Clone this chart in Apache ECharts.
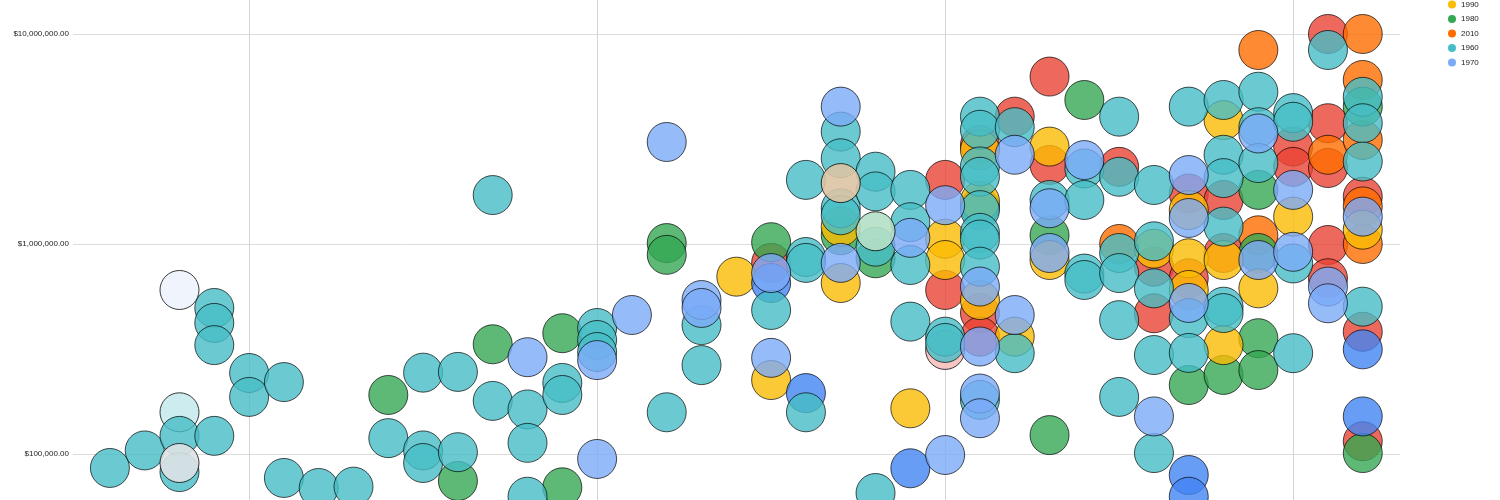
<!DOCTYPE html>
<html>
<head>
<meta charset="utf-8">
<script src="https://cdn.jsdelivr.net/npm/echarts@6/dist/echarts.min.js"></script>
<style>
  html, body { margin: 0; padding: 0; background: #fff; }
  #chart { width: 1500px; height: 500px; }
</style>
</head>
<body>
<div id="chart"></div>
<script>
// legend order as in the chart (first two entries sit above the visible area)
const seriesNames = ['2000', '1950', '1990', '1980', '2010', '1960', '1970']

// x value, amount in dollars
const points2000 = [
  [25, 652000], [26, 195000], [29, 85500], [37, 79400], [37, 62600], [42, 315000], [42, 151000]
]

const points1950 = [
  [25, 813000], [30, 2020000], [30, 604000], [31, 2960000], [31, 469000], [31, 362000],
  [32, 4040000], [33, 6270000], [33, 2380000], [35, 2330000], [36, 780000], [36, 468000],
  [37, 1740000], [37, 687000], [38, 1620000], [38, 906000], [40, 2910000], [40, 2330000],
  [41, 10000000], [41, 3760000], [41, 2300000], [41, 989000], [41, 687000],
  [42, 1680000], [42, 382000], [42, 115000]
]

const points1990 = [
  [24, 699000], [25, 225000], [27, 1210000], [27, 652000], [29, 165000], [30, 1060000],
  [30, 839000], [31, 2800000], [31, 1600000], [31, 541000], [32, 362000], [33, 2910000],
  [33, 839000], [36, 950000], [37, 1450000], [37, 855000], [37, 604000], [38, 3890000],
  [38, 839000], [38, 330000], [39, 615000], [40, 1350000], [42, 1170000]
]

const points1980 = [
  [14, 191000], [16, 74400], [17, 333000], [19, 376000], [19, 69400], [22, 1010000],
  [22, 888000], [25, 1020000], [27, 1100000], [28, 855000], [31, 1500000], [33, 1100000],
  [33, 123000], [34, 4850000], [37, 213000], [38, 238000], [39, 1810000], [39, 906000],
  [39, 356000], [39, 251000], [42, 4510000], [42, 101000]
]

const points2010 = [
  [35, 1000000], [39, 8390000], [39, 1100000], [41, 2660000], [42, 10000000],
  [42, 6040000], [42, 3130000], [42, 1510000], [42, 1000000]
]

const points1960 = [
  [6, 85800], [7, 104000], [8, 122000], [8, 82000], [9, 496000], [9, 421000], [9, 330000],
  [9, 122000], [10, 243000], [10, 187000], [11, 220000], [11, 76900], [12, 68900],
  [13, 69900], [14, 119000], [15, 244000], [15, 104000], [15, 90600], [16, 246000],
  [16, 102000], [17, 179000], [17, 1710000], [18, 163000], [18, 113000], [18, 62600],
  [19, 218000], [19, 191000], [20, 398000], [20, 349000], [20, 306000], [22, 158000],
  [23, 411000], [23, 265000], [25, 485000], [26, 2020000], [26, 867000], [26, 813000],
  [26, 158000], [27, 3430000], [27, 2560000], [27, 1480000], [27, 1370000], [28, 2210000],
  [28, 1780000], [28, 971000], [28, 65200], [29, 1810000], [29, 1270000], [29, 794000],
  [29, 427000], [30, 362000], [30, 338000], [31, 4040000], [31, 3500000], [31, 2340000],
  [31, 2090000], [31, 1450000], [31, 1130000], [31, 1050000], [31, 780000], [31, 181000],
  [32, 3600000], [32, 302000], [33, 1620000], [34, 2290000], [34, 1620000], [34, 723000],
  [34, 674000], [35, 4040000], [35, 2090000], [35, 906000], [35, 727000], [35, 434000],
  [35, 187000], [36, 1910000], [36, 1030000], [36, 615000], [36, 296000], [36, 101000],
  [37, 4510000], [37, 444000], [37, 303000], [38, 4850000], [38, 2660000], [38, 2060000],
  [38, 1210000], [38, 503000], [38, 469000], [39, 5310000], [39, 3600000], [39, 2430000],
  [40, 4200000], [40, 3820000], [40, 808000], [40, 302000], [41, 8390000], [42, 5020000],
  [42, 3760000], [42, 2470000], [42, 503000]
]

const points1970 = [
  [18, 289000], [20, 280000], [20, 94700], [21, 459000], [22, 3060000], [23, 541000],
  [23, 496000], [25, 727000], [25, 287000], [27, 4510000], [27, 813000], [29, 1070000],
  [30, 1530000], [30, 98900], [31, 627000], [31, 325000], [31, 194000], [31, 148000],
  [32, 2660000], [32, 459000], [33, 1480000], [33, 906000], [34, 2510000], [36, 151000],
  [37, 2130000], [37, 1330000], [37, 524000], [39, 3360000], [39, 839000], [40, 1810000],
  [40, 918000], [41, 627000], [41, 522000], [42, 1350000]
]

// pale bubbles that belong to none of the visible legend entries
const pointsPaleLow = [[8, 158000], [30, 313000]]
const paleLowColors = ['#c8eaed', '#f4c0bd']
const pointsPaleTop = [[8, 604000], [8, 90600], [27, 1950000], [28, 1150000]]
const paleTopColors = ['#eef3fd', '#dee2e5', '#dcc4a4', '#b4dfc4']

const gridXValues = [10, 20, 30, 40]

const colors = {
  '2000': '#4285F4',
  '1950': '#EA4335',
  '1990': '#FBBC04',
  '1980': '#34A853',
  '2010': '#FF6D01',
  '1960': '#46BDC6',
  '1970': '#7BAAF7'
}

const pointsByName = {
  '2000': points2000,
  '1950': points1950,
  '1990': points1990,
  '1980': points1980,
  '2010': points2010,
  '1960': points1960,
  '1970': points1970
}

// drawing order (later on top)
const drawOrder = ['1950', '2010', '1980', '1990', '2000', '1960', '1970']

const bubbleStyle = {
  borderColor: 'rgba(0,0,0,0.85)',
  borderWidth: 1,
  opacity: 0.8
}

function paleSeries(name, pts, cols) {
  return {
    name: name,
    type: 'scatter',
    symbolSize: 39,
    data: pts.map((p, i) => ({ value: p, itemStyle: { color: cols[i] } })),
    itemStyle: { borderColor: 'rgba(0,0,0,0.85)', borderWidth: 1, opacity: 0.9 }
  }
}

const chart = echarts.init(document.getElementById('chart'))

const lowSeries = paleSeries('paleLow', pointsPaleLow, paleLowColors)
lowSeries.markLine = {
  silent: true,
  z: 1,
  symbol: ['none', 'none'],
  label: { show: false },
  lineStyle: { color: '#d4d4d4', width: 1, type: 'solid' },
  data: gridXValues.map((v) => ({ xAxis: v }))
}

const series = [lowSeries]

drawOrder.forEach((name) => {
  series.push({
    name: name,
    type: 'scatter',
    symbolSize: 39,
    data: pointsByName[name],
    itemStyle: Object.assign({ color: colors[name] }, bubbleStyle)
  })
})

series.push(paleSeries('paleTop', pointsPaleTop, paleTopColors))

chart.setOption({
  backgroundColor: '#ffffff',
  animation: false,
  textStyle: { fontFamily: 'Liberation Sans, Arial, sans-serif' },
  grid: { left: 73, right: 100, top: -176, bottom: -164, outerBoundsMode: 'none', containLabel: false },
  legend: {
    orient: 'vertical',
    left: 1443,
    top: -33.5,
    icon: 'circle',
    itemWidth: 8,
    itemHeight: 8,
    itemGap: 6.5,
    data: seriesNames,
    itemStyle: { borderWidth: 0, opacity: 1 },
    textStyle: { fontSize: 8, lineHeight: 8, color: '#222', fontFamily: 'Liberation Sans, Arial, sans-serif' }
  },
  xAxis: {
    type: 'value',
    min: 4.94,
    max: 43.07,
    axisLine: { show: false },
    axisTick: { show: false },
    axisLabel: { show: false },
    splitLine: { show: false }
  },
  yAxis: {
    type: 'log',
    logBase: 10,
    min: 10000,
    max: 100000000,
    axisLine: { show: false },
    axisTick: { show: false },
    axisLabel: {
      fontSize: 8,
      color: '#222',
      margin: 4,
      formatter: (v) => '$' + Number(v).toLocaleString('en-US', { minimumFractionDigits: 2, maximumFractionDigits: 2 })
    },
    splitLine: { lineStyle: { color: '#dcdcdc', width: 1 } }
  },
  series: series
})
</script>
</body>
</html>
